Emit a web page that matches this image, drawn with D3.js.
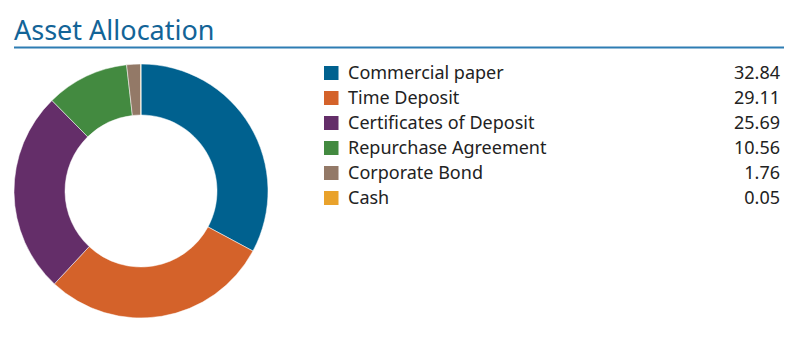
<!DOCTYPE html>
<html>
<head>
<meta charset="utf-8">
<script src="https://cdn.jsdelivr.net/npm/d3@7"></script>
<style>
  body { margin: 0; background: #fff; }
  svg { display: block; font-family: "Noto Sans", sans-serif; }
</style>
</head>
<body>
<div id="chart"></div>
<script>
'use strict';

// Data
const categories = ["Commercial paper", "Time Deposit", "Certificates of Deposit", "Repurchase Agreement", "Corporate Bond", "Cash"];
const values = [32.84, 29.11, 25.69, 10.56, 1.76, 0.05];
const colors = ["#00618f", "#d4622a", "#642e69", "#438a40", "#937967", "#e9a22b"];

const width = 794;
const height = 340;

const svg = d3.select("#chart")
    .append("svg")
    .attr("width", width)
    .attr("height", height);

// Title and rule
svg.append("text")
    .attr("x", 14)
    .attr("y", 40)
    .attr("fill", "#136497")
    .style("font-size", "27px")
    .text("Asset Allocation");

svg.append("line")
    .attr("x1", 14)
    .attr("x2", 784)
    .attr("y1", 47.5)
    .attr("y2", 47.5)
    .attr("stroke", "#2e7db3")
    .attr("stroke-width", 2);

// Donut
const data = categories.map((c, i) => ({ category: c, value: values[i], color: colors[i] }));

const pie = d3.pie()
    .value(d => d.value)
    .sort(null);

const arc = d3.arc()
    .innerRadius(76)
    .outerRadius(127);

svg.append("g")
    .attr("transform", "translate(141,191)")
    .selectAll("path")
    .data(pie(data))
    .enter()
    .append("path")
    .attr("d", arc)
    .attr("fill", d => d.data.color)
    .attr("stroke", "#fff")
    .attr("stroke-width", 0.5);

// Legend
const y = d3.scaleBand()
    .domain(categories)
    .range([60, 210]);

const legend = svg.selectAll(".legend")
    .data(data)
    .enter()
    .append("g")
    .attr("class", "legend")
    .attr("transform", d => `translate(0,${y(d.category) + y.bandwidth() / 2})`);

legend.append("rect")
    .attr("x", 324)
    .attr("y", -6.5)
    .attr("width", 14.5)
    .attr("height", 14)
    .attr("fill", d => d.color);

legend.append("text")
    .attr("x", 348)
    .attr("dy", "0.35em")
    .attr("fill", "#222")
    .style("font-size", "18px")
    .text(d => d.category);

legend.append("text")
    .attr("x", 780)
    .attr("dy", "0.35em")
    .attr("text-anchor", "end")
    .attr("fill", "#222")
    .style("font-size", "18px")
    .text(d => d3.format(".2f")(d.value));
</script>
</body>
</html>
